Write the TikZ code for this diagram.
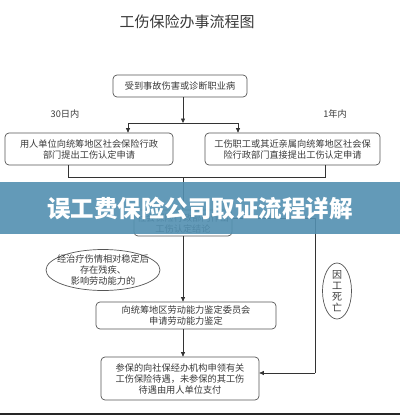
\documentclass[tikz,border=0pt]{standalone}
\usepackage{fontspec}
\setmainfont{Noto Sans CJK SC}
\usetikzlibrary{arrows.meta,shapes.geometric,calc}
\definecolor{linec}{HTML}{333333}
\definecolor{boxc}{HTML}{555555}
\definecolor{txtc}{HTML}{3A3A3A}
\definecolor{bannerc}{RGB}{83,144,177}
\begin{document}
\begin{tikzpicture}[x=1pt,y=-1pt,
  box/.style={draw=boxc, line width=0.7pt, rounded corners=4pt, fill=white, align=center, inner sep=0pt, font=\fontsize{9.2}{11}\selectfont, text=txtc},
  ell/.style={draw=boxc, line width=0.7pt, ellipse, fill=white, inner sep=0pt},
  lbl/.style={align=center, inner sep=0pt, font=\fontsize{9.2}{11}\selectfont, text=txtc},
  conn/.style={draw=linec, line width=0.7pt},
  arr/.style={conn, -{Triangle[length=4.5pt,width=4pt]}}]
\useasboundingbox (0,0) rectangle (400,415);
\fill[white] (0,0) rectangle (400,415);
% title
\node[font=\fontsize{15}{18}\selectfont, text=txtc] (title) at (187,22) {工伤保险办事流程图};
% top box
\node[box, minimum width=134pt, minimum height=22pt] (b1) at (180,86) {受到事故伤害或诊断职业病};
\coordinate (split) at (183,123);
\coordinate (sl) at (128,123);
\coordinate (sr) at (238,123);
\node[lbl] (l30) at (65,114) {30日内};
\node[lbl] (l1) at (335,114) {1年内};
\node[box, minimum width=168pt, minimum height=32pt] (bl) at (89,149) {用人单位向统筹地区社会保险行政\\部门提出工伤认定申请};
\node[box, minimum width=175pt, minimum height=32pt] (br) at (292.5,149) {工伤职工或其近亲属向统筹地区社会保\\险行政部门直接提出工伤认定申请};
\draw[arr] (b1.south -| split) -- (split);
\draw[conn] (sl) -- (sr);
\draw[arr] (sl) -- (sl |- bl.north);
\draw[arr] (sr) -- (sr |- br.north);
% merge
\coordinate (ml) at (68,177);
\coordinate (mr) at (325,177);
\coordinate (mm) at (183,177);
\node[box, minimum width=98pt, minimum height=26pt] (hid) at (183,223) {社会保险行政部门作出\\工伤认定结论};
\draw[conn] (ml |- bl.south) -- (ml) -- (mr) -- (mr |- br.south);
\draw[arr] (mm) -- (mm |- hid.north);
% middle and bottom
\node[box, minimum width=180pt, minimum height=27pt] (mid) at (186,315.5) {向统筹地区劳动能力鉴定委员会\\申请劳动能力鉴定};
\node[box, minimum width=158pt, minimum height=43pt] (bot) at (180,378.5) {参保的向社保经办机构申领有关\\工伤保险待遇，未参保的其工伤\\待遇由用人单位支付};
\draw[arr] (hid.south) -- (hid.south |- mid.north);
\draw[arr] (mid.south -| hid.south) -- (hid.south |- bot.north);
% right branch
\coordinate (hr) at ($(hid.east)+(0,-5)$);
\coordinate (rc) at (315,373);
\draw[conn] (hr) -| (rc);
\draw[arr] (rc) -- (rc -| bot.east);
% ellipses
\node[ell, minimum width=114pt, minimum height=41pt] (e1) at (103,270) {};
\node[lbl] (e1t) at (e1.center) {经治疗伤情相对稳定后\\存在残疾、\\影响劳动能力的};
\node[ell, minimum width=29pt, minimum height=56pt] (e2) at (337,291) {};
\node[lbl, font=\fontsize{10}{11}\selectfont] (e2t) at (e2.center) {因\\工\\死\\亡};
% banner
\fill[bannerc, opacity=0.9] (0,182) rectangle (400,234);
\node[font=\fontsize{23.5}{26}\selectfont\bfseries, text=white] (ban) at (200,208) {误工费保险公司取证流程详解};
% bottom border
\fill[black!85] (0,412.5) rectangle (400,415);
\end{tikzpicture}
\end{document}
